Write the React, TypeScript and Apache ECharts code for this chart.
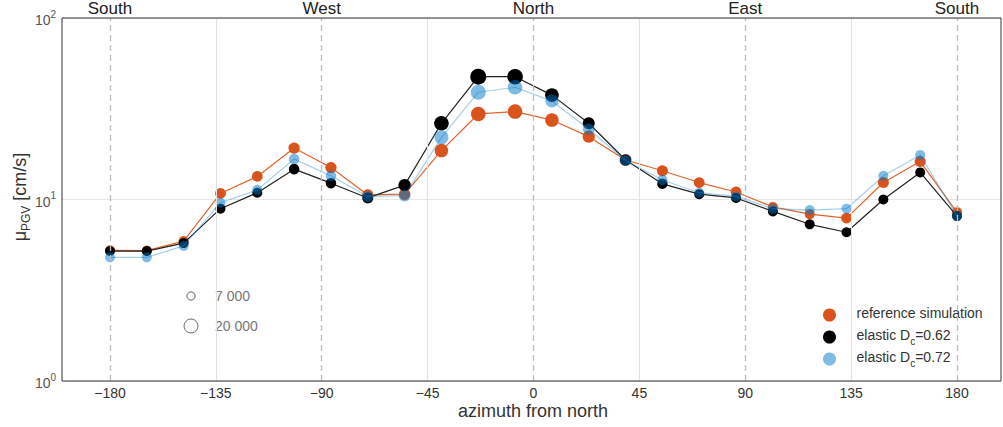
import React, { useEffect, useRef } from "react";
import * as echarts from "echarts";

// Azimuth of each sampling direction, degrees from north
const azimuths = [
  -180, -164.35, -148.7, -133.04, -117.39, -101.74, -86.09, -70.43, -54.78, -39.13, -23.48, -7.83,
  7.83, 23.48, 39.13, 54.78, 70.43, 86.09, 101.74, 117.39, 133.04, 148.7, 164.35, 180,
];

// Mean PGV per azimuth bin [cm/s]
const referenceSimulation = [
  5.25, 5.23, 5.9, 10.8, 13.4, 19.2, 15.0, 10.6, 10.7, 18.6, 29.6, 30.5,
  27.4, 22.2, 16.5, 14.4, 12.4, 11.0, 9.1, 8.3, 7.9, 12.4, 16.2, 8.5,
];
const elasticDc062 = [
  5.2, 5.2, 5.75, 8.9, 10.9, 14.7, 12.3, 10.2, 12.0, 26.3, 47.5, 47.5,
  37.6, 26.3, 16.5, 12.2, 10.7, 10.2, 8.6, 7.3, 6.6, 10.0, 14.1, 8.1,
];
const elasticDc072 = [
  4.8, 4.8, 5.55, 9.6, 11.3, 16.7, 13.5, 10.4, 10.5, 22.0, 39.0, 41.5,
  34.9, 24.4, 16.4, 12.8, 10.9, 10.4, 8.9, 8.75, 8.9, 13.5, 17.6, 8.1,
];

// Number of samples per azimuth bin (marker area scales with it)
const referenceCounts = [
  10400, 10400, 10400, 12000, 12000, 13200, 13200, 13200, 13800, 19000, 22000, 22000,
  19000, 15500, 15000, 12600, 12000, 12000, 10400, 10400, 12000, 12600, 12600, 11000,
];
const elastic062Counts = [
  10400, 10400, 10400, 10400, 10400, 11500, 11500, 12500, 16000, 22000, 26600, 25000,
  19500, 15000, 13000, 11000, 10400, 10400, 10400, 10400, 10400, 10400, 10400, 10400,
];
const elastic072Counts = [
  10400, 10400, 10400, 10400, 10400, 11500, 11500, 12500, 14000, 20400, 23400, 22000,
  17600, 14000, 12500, 11000, 10400, 10400, 10400, 10400, 10400, 10400, 10400, 10400,
];

const xTicks = [-180, -135, -90, -45, 0, 45, 90, 135, 180];
const compassTicks = [-180, -90, 0, 90, 180];
const compassLabels = ["South", "West", "North", "East", "South"];
const sizeLegendCounts = [7000, 20000];
const sizeLegendLabels = ["7 000", "20 000"];

const diameter = (n: number) => Math.sqrt(n) / 10.2;

const ORANGE = "#d9541c";
const ORANGE_LINE = "#e2642c";
const BLUE = "rgba(0,120,200,0.5)";
const BLUE_LINE = "rgba(40,140,210,0.42)";
const FONT = "'Liberation Sans', Arial, sans-serif";

const toPoints = (vals: number[], counts: number[]) =>
  azimuths.map((a, i) => [a, vals[i], counts[i]]);

export default function App() {
  const ref = useRef<HTMLDivElement>(null);

  useEffect(() => {
    if (!ref.current) return;
    const chart = echarts.init(ref.current, undefined, { renderer: "svg" });

    const gridLines = xTicks.map((t) =>
      compassTicks.includes(t)
        ? { xAxis: t, lineStyle: { color: "#bdbdbd", type: [6, 4], width: 1.3 } }
        : { xAxis: t, lineStyle: { color: "#e3e3e3", type: "solid", width: 1 } }
    );

    const option: any = {
      animation: false,
      textStyle: { fontFamily: FONT },
      grid: {
        left: 62,
        right: 2,
        top: 18,
        bottom: 46,
        show: true,
        borderColor: "#333",
        borderWidth: 1,
        backgroundColor: "transparent",
        z: 10,
      },
      xAxis: [
        {
          type: "value",
          min: -200.4,
          max: 198.7,
          axisLine: { show: false },
          axisTick: { show: false },
          splitLine: { show: false },
          axisLabel: {
            customValues: xTicks,
            margin: 5,
            fontSize: 14,
            color: "#333",
            fontFamily: FONT,
            formatter: (v: number) => String(v).replace("-", "\u2212"),
          },
        },
        {
          type: "value",
          position: "top",
          min: -200.4,
          max: 198.7,
          axisLine: { show: false },
          axisTick: { show: false },
          splitLine: { show: false },
          axisLabel: {
            customValues: compassTicks,
            margin: 1,
            fontSize: 17,
            color: "#222",
            fontFamily: FONT,
            formatter: (v: number) => compassLabels[compassTicks.indexOf(v)] ?? "",
          },
        },
      ],
      yAxis: {
        type: "log",
        logBase: 10,
        min: 1,
        max: 100,
        axisLine: { show: false },
        axisTick: { show: false },
        minorTick: { show: false },
        splitLine: { show: true, lineStyle: { color: "#e6e6e6", width: 1 } },
        axisLabel: {
          margin: 6,
          color: "#555",
          formatter: (v: number) => `{b|10}{s|${Math.round(Math.log10(v))}}`,
          rich: {
            b: { fontSize: 14, color: "#555", fontFamily: FONT, lineHeight: 18, verticalAlign: "bottom" },
            s: { fontSize: 10, color: "#555", fontFamily: FONT, lineHeight: 10, verticalAlign: "top" },
          },
        },
      },
      legend: {
        data: ["reference simulation", "elastic Dc=0.62", "elastic Dc=0.72"],
        orient: "vertical",
        left: 818,
        top: 301,
        icon: "circle",
        itemWidth: 44,
        itemHeight: 13,
        itemGap: 4,
        formatter: (name: string) =>
          name.startsWith("elastic")
            ? `{t|elastic D}{s|c}{t|${name.slice(10)}}`
            : `{t|${name}}{p| }`,
        textStyle: {
          rich: {
            t: { fontSize: 14, color: "#333", fontFamily: FONT, lineHeight: 16, verticalAlign: "top" },
            s: { fontSize: 10, color: "#333", fontFamily: FONT, lineHeight: 18, verticalAlign: "bottom" },
            p: { fontSize: 1, lineHeight: 18, verticalAlign: "bottom" },
          },
        },
      },
      series: [
        {
          name: "grid",
          type: "line",
          data: [[0, 10]],
          symbol: "none",
          lineStyle: { width: 0, opacity: 0 },
          silent: true,
          z: 0,
          markLine: {
            silent: true,
            symbol: "none",
            label: { show: false },
            data: gridLines,
          },
        },
        {
          name: "reference simulation",
          type: "line",
          data: toPoints(referenceSimulation, referenceCounts),
          symbol: "circle",
          symbolSize: (v: number[]) => diameter(v[2]),
          lineStyle: { color: ORANGE_LINE, width: 1.2 },
          itemStyle: { color: ORANGE, borderWidth: 0 },
          z: 2,
        },
        {
          name: "elastic Dc=0.62",
          type: "line",
          data: toPoints(elasticDc062, elastic062Counts),
          symbol: "circle",
          symbolSize: (v: number[]) => diameter(v[2]),
          lineStyle: { color: "#222", width: 1.2 },
          itemStyle: { color: "#000", borderWidth: 0 },
          z: 3,
        },
        {
          name: "elastic Dc=0.72",
          type: "line",
          data: toPoints(elasticDc072, elastic072Counts),
          symbol: "circle",
          symbolSize: (v: number[]) => diameter(v[2]),
          lineStyle: { color: BLUE_LINE, width: 1.2 },
          itemStyle: { color: BLUE, borderWidth: 0 },
          z: 4,
        },
      ],
      graphic: [
        {
          type: "text",
          x: 21,
          y: 197,
          rotation: Math.PI / 2,
          style: {
            text: "{m|\u03bc}{s|PGV}{m| [cm/s]}",
            align: "center",
            verticalAlign: "middle",
            rich: {
              m: { fontSize: 18, fill: "#333", fontFamily: FONT, lineHeight: 18, verticalAlign: "top" },
              s: { fontSize: 12, fill: "#333", fontFamily: FONT, lineHeight: 21, verticalAlign: "bottom" },
            },
          },
        },
        {
          type: "text",
          x: 533,
          y: 411,
          style: {
            text: "azimuth from north",
            fontSize: 18,
            fill: "#333",
            fontFamily: FONT,
            align: "center",
            verticalAlign: "middle",
          },
        },
        ...sizeLegendCounts.flatMap((n, i) => [
          {
            type: "circle",
            shape: { cx: 191, cy: 296 + i * 30, r: diameter(n) / 2 },
            style: { fill: "none", stroke: "#666", lineWidth: 1 },
          },
          {
            type: "text",
            x: 215,
            y: 296 + i * 30,
            style: {
              text: sizeLegendLabels[i],
              fontSize: 14,
              fill: "#777",
              fontFamily: FONT,
              align: "left",
              verticalAlign: "middle",
            },
          },
        ]),
      ],
    };

    chart.setOption(option);
    return () => chart.dispose();
  }, []);

  return (
    <div
      ref={ref}
      style={{ position: "fixed", left: 0, top: 0, width: 1003, height: 427, background: "#fff" }}
    />
  );
}
